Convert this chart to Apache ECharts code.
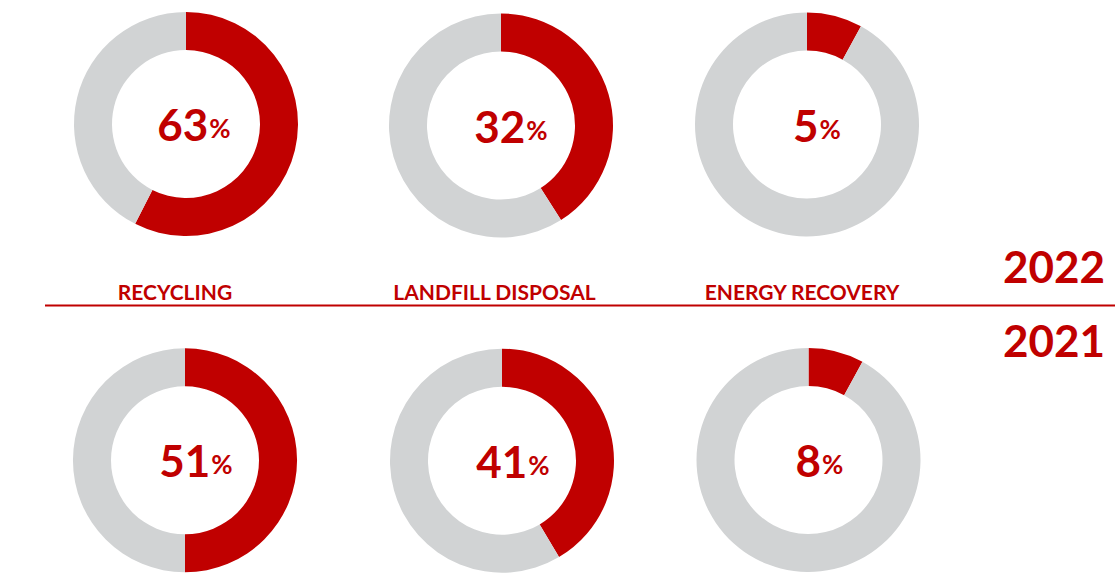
<!DOCTYPE html>
<html>
<head>
<meta charset="utf-8">
<script src="https://cdn.jsdelivr.net/npm/echarts@6/dist/echarts.min.js"></script>
<style>
  html, body { margin: 0; padding: 0; background: #fff; }
  #main { width: 1115px; height: 577px; }
</style>
</head>
<body>
<div id="main"></div>
<script>
// categories and years
var categories = ['RECYCLING', 'LANDFILL DISPOSAL', 'ENERGY RECOVERY'];
var years = ['2022', '2021'];
// printed percentages
var label2022 = [63, 32, 5];
var label2021 = [51, 41, 8];
// share of the ring drawn red
var arc2022 = [57.5, 41, 8];
var arc2021 = [50, 41.5, 8];

var RED = '#C00000';
var GREY = '#D1D3D4';

var chart = echarts.init(document.getElementById('main'), null, { renderer: 'svg' });

var colX = [[186, 501, 807], [185, 502, 808.5]];
var rowY = [[124, 125.5, 124.5], [460.3, 460.7, 460]];
var textDx = [[8, 10, 10], [11, 11, 11]];

function ring(row, i, arcs, labels) {
    return {
        type: 'pie',
        silent: true,
        center: [colX[row][i], rowY[row][i]],
        radius: [74, 112],
        startAngle: 90,
        clockwise: true,
        avoidLabelOverlap: false,
        labelLine: { show: false },
        emphasis: { disabled: true },
        labelLayout: { dx: textDx[row][i], dy: 0 },
        data: [
            {
                value: arcs[i],
                itemStyle: { color: RED },
                label: {
                    show: true,
                    position: 'center',
                    formatter: '{n|' + labels[i] + '}{p|%}',
                    rich: {
                        n: { fontFamily: 'Lato', fontWeight: 'bold', fontSize: 44, color: RED, lineHeight: 50 },
                        p: { fontFamily: 'Lato', fontWeight: 'bold', fontSize: 26, color: RED, lineHeight: 50, padding: [8, 0, 0, 1] }
                    }
                }
            },
            { value: 100 - arcs[i], itemStyle: { color: GREY }, label: { show: false } }
        ]
    };
}

var series = [];
for (var i = 0; i < 3; i++) {
    series.push(ring(0, i, arc2022, label2022));
    series.push(ring(1, i, arc2021, label2021));
}

var labelX = [175, 494.5, 802];
var graphics = [];
for (var j = 0; j < categories.length; j++) {
    graphics.push({
        type: 'text', x: labelX[j], y: 291,
        style: { text: categories[j], fill: RED, font: 'bold 21px Lato', align: 'center', verticalAlign: 'middle' }
    });
}
graphics.push({
    type: 'text', x: 1054, y: 266,
    style: { text: years[0], fill: RED, font: 'bold 44px Lato', align: 'center', verticalAlign: 'middle' }
});
graphics.push({
    type: 'text', x: 1054, y: 340,
    style: { text: years[1], fill: RED, font: 'bold 44px Lato', align: 'center', verticalAlign: 'middle' }
});
graphics.push({
    type: 'line',
    shape: { x1: 45, y1: 305.5, x2: 1115, y2: 305.5 },
    style: { stroke: RED, lineWidth: 2 }
});

chart.setOption({
    animation: false,
    backgroundColor: '#fff',
    series: series,
    graphic: graphics
});
</script>
</body>
</html>
